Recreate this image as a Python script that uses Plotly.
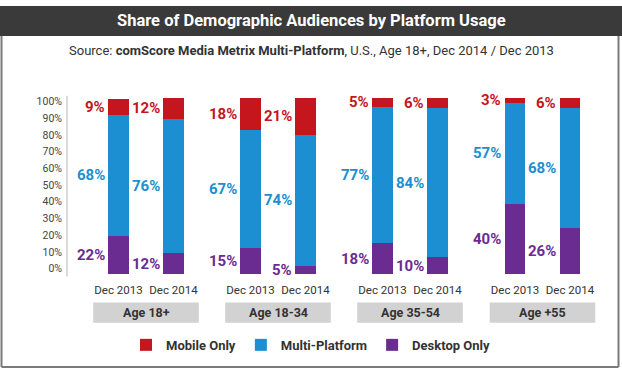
import plotly.graph_objects as go

W, H = 622, 377

groups = ["Age 18+", "Age 18-34", "Age 35-54", "Age +55"]
periods = ["Dec 2013", "Dec 2014"]
mobile_only = [[9, 12], [18, 21], [5, 6], [3, 6]]
multi_platform = [[68, 76], [67, 74], [77, 84], [57, 68]]
desktop_only = [[22, 12], [15, 5], [18, 10], [40, 26]]
y_ticks = [0, 10, 20, 30, 40, 50, 60, 70, 80, 90, 100]

series = [
    ("Desktop Only", desktop_only, "#6a2c91"),
    ("Multi-Platform", multi_platform, "#1b8fd2"),
    ("Mobile Only", mobile_only, "#c4161c"),
]

FONT = "Roboto, Liberation Sans Narrow, sans-serif"
TXT = "#333333"

def px_x(p):
    return p / W

def px_y(p):
    return 1 - p / H

fig = go.Figure()
layout = dict(
    width=W, height=H, margin=dict(l=0, r=0, t=0, b=0),
    paper_bgcolor="white", plot_bgcolor="rgba(0,0,0,0)",
    barmode="stack", bargap=0.62,
    font=dict(family=FONT, color=TXT),
    showlegend=True,
    legend=dict(orientation="h", x=0.5, xanchor="center", y=px_y(351), yanchor="middle",
                traceorder="reversed", font=dict(size=13, color=TXT, family=FONT, weight="bold"),
                itemclick=False, bgcolor="rgba(0,0,0,0)"),
)

centers = [146, 278, 410, 542.5]
ydom = [px_y(278), px_y(95)]
annotations = []
shapes = []

for gi, g in enumerate(groups):
    n = gi + 1
    xa = "x" if n == 1 else f"x{n}"
    ya = "y" if n == 1 else f"y{n}"
    c = centers[gi]
    layout[f"xaxis{'' if n == 1 else n}"] = dict(
        domain=[px_x(c - 55), px_x(c + 55)], anchor=ya, type="category",
        categoryorder="array", categoryarray=periods, range=[-0.5, 1.5],
        showgrid=False, zeroline=False, showline=False, ticks="", tickangle=0,
        tickfont=dict(size=11.5, color=TXT, family=FONT), ticklabelstandoff=7,
        fixedrange=True,
    )
    layout[f"yaxis{'' if n == 1 else n}"] = dict(
        domain=ydom, anchor=xa, range=[0, 100], visible=False, fixedrange=True,
    )
    cum = [0, 0]
    for name, vals, col in series:
        v = vals[gi]
        fig.add_trace(go.Bar(
            x=periods, y=v, name=name, marker=dict(color=col, line=dict(width=0)),
            xaxis=xa, yaxis=ya, legendgroup=name, showlegend=(gi == 0),
            hoverinfo="skip",
        ))
        for k in range(2):
            annotations.append(dict(
                x=periods[k], y=cum[k] + v[k] / 2, xref=xa, yref=ya,
                text=f"<b>{v[k]}%</b>", showarrow=False, xanchor="right", yanchor="middle",
                xshift=-12, font=dict(size=15, color=col, family=FONT),
            ))
            cum[k] += v[k]
    # group label box
    shapes.append(dict(type="rect", xref=f"{xa} domain", yref="paper",
                       x0=0.02, x1=0.98, y0=px_y(328), y1=px_y(307),
                       fillcolor="#d2d2d2", line=dict(width=0), layer="below"))
    annotations.append(dict(x=0.5, xref=f"{xa} domain", y=px_y(317.5), yref="paper",
                            text=f"<b>{g}</b>", showarrow=False, xanchor="center",
                            yanchor="middle", font=dict(size=12.5, color=TXT, family=FONT)))

# percentage label axis
layout["xaxis5"] = dict(domain=[0, 0.1], anchor="y5", visible=False, fixedrange=True)
layout["yaxis5"] = dict(domain=[px_y(272), px_y(99)], anchor="free", position=px_x(66),
                        range=[0, 100], tickvals=y_ticks, ticktext=[f"{t}%" for t in y_ticks],
                        showgrid=False, zeroline=False, showline=False, ticks="",
                        tickfont=dict(size=10.5, color="#444444", family=FONT),
                        ticklabelstandoff=4, fixedrange=True)
fig.add_trace(go.Scatter(x=[], y=[], xaxis="x5", yaxis="y5", showlegend=False, hoverinfo="skip"))

# axis line
shapes.append(dict(type="line", xref="paper", yref="paper", x0=px_x(67), x1=px_x(67),
                   y0=px_y(280), y1=px_y(93), line=dict(color="#b5b5b5", width=1)))
# title bar
shapes.append(dict(type="rect", xref="paper", yref="paper", x0=0, x1=1, y0=px_y(31), y1=1,
                   fillcolor="#3a3a3a", line=dict(width=0)))
# frame
shapes.append(dict(type="line", xref="paper", yref="paper", x0=px_x(1.5), x1=px_x(1.5),
                   y0=px_y(374), y1=px_y(31), line=dict(color="#7a7a7a", width=2)))
shapes.append(dict(type="line", xref="paper", yref="paper", x0=px_x(618.5), x1=px_x(618.5),
                   y0=px_y(374), y1=px_y(31), line=dict(color="#7a7a7a", width=2)))
shapes.append(dict(type="line", xref="paper", yref="paper", x0=px_x(1.5), x1=px_x(618.5),
                   y0=px_y(374), y1=px_y(374), line=dict(color="#7a7a7a", width=2)))

annotations.append(dict(x=0.5, y=px_y(15.5), xref="paper", yref="paper",
                        text="<b>Share of Demographic Audiences by Platform Usage</b>",
                        showarrow=False, xanchor="center", yanchor="middle",
                        font=dict(size=16.5, color="white", family=FONT)))
annotations.append(dict(x=0.5, y=px_y(46), xref="paper", yref="paper",
                        text="Source: <b>comScore Media Metrix Multi-Platform</b>, U.S., Age 18+, Dec 2014 / Dec 2013",
                        showarrow=False, xanchor="center", yanchor="middle",
                        font=dict(size=13, color=TXT, family=FONT)))

layout["annotations"] = annotations
layout["shapes"] = shapes
fig.update_layout(**layout)
fig.write_html("out.html", config={"displayModeBar": False},
               post_script="document.body.style.margin='0';document.body.style.overflow='hidden';")
